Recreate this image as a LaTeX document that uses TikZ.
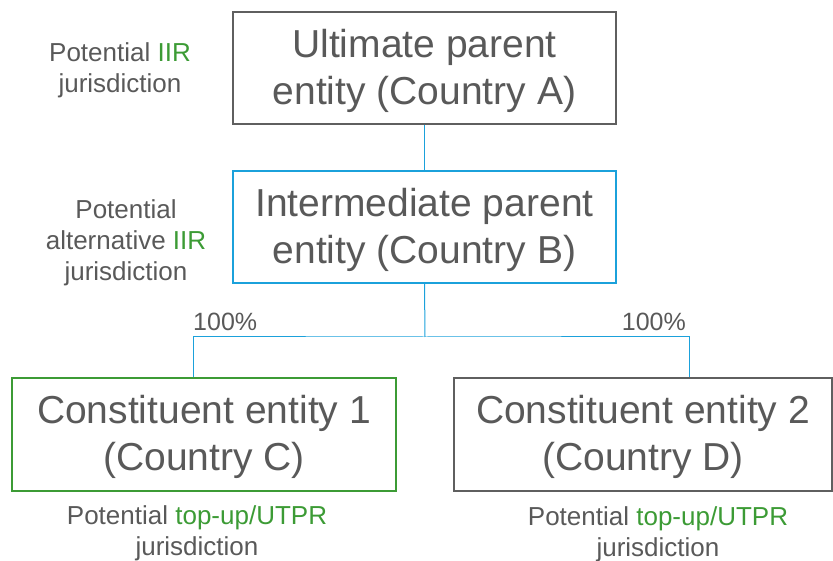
\documentclass[tikz,border=0pt]{standalone}
\usepackage{fontspec}
\setmainfont{Liberation Sans}
\definecolor{txtgray}{HTML}{595959}
\definecolor{boxgray}{HTML}{5F5F5F}
\definecolor{linkblue}{HTML}{1BA1DB}
\definecolor{taxgreen}{HTML}{3C9B35}
\tikzset{
  entity/.style={draw, line width=1.3pt, inner sep=0pt},
  etext/.style={inner sep=0pt, align=center, text=txtgray,
    font=\fontsize{39}{47}\selectfont},
  note/.style={inner sep=0pt, align=center, text=txtgray,
    font=\fontsize{26}{31}\selectfont},
  pct/.style={inner sep=0pt, text=txtgray, font=\fontsize{25}{29}\selectfont},
  link/.style={draw=linkblue, line width=1pt},
}
\newcommand{\hl}[1]{\textcolor{taxgreen}{#1}}
\begin{document}
\begin{tikzpicture}[x=1pt,y=-1pt]
  \useasboundingbox (0,0) rectangle (833,561);

  % entity boxes
  \node[entity, draw=boxgray, minimum width=383pt, minimum height=112pt] (upe)
    at (424.5,68) {};
  \node[entity, draw=linkblue, minimum width=383pt, minimum height=112pt] (ipe)
    at (424.5,227) {};
  \node[entity, draw=taxgreen, minimum width=384pt, minimum height=113pt] (ce1)
    at (204,434.5) {};
  \node[entity, draw=boxgray, minimum width=378pt, minimum height=113pt] (ce2)
    at (643,434.5) {};

  % entity names
  \node[etext] (upet) at ([yshift=-3pt]upe.center) {Ultimate parent\\entity (Country A)};
  \node[etext] (ipet) at ([yshift=-3pt]ipe.center) {Intermediate parent\\entity (Country B)};
  \node[etext] (ce1t) at ([yshift=-2pt]ce1.center) {Constituent entity 1\\(Country C)};
  \node[etext] (ce2t) at ([yshift=-2pt]ce2.center) {Constituent entity 2\\(Country D)};

  % ownership links
  \coordinate (split) at (425,337);
  \draw[link] (upe.south) -- (ipe.north);
  \draw[link] (ipe.south) -- (split);
  \draw[link] ([xshift=-11pt]ce1.north) |- (split) -| ([xshift=46pt]ce2.north);

  \node[pct, anchor=west] (p1) at (193,322) {100\%};
  \node[pct, anchor=east] (p2) at (686,322) {100\%};

  % jurisdiction notes
  \node[note] (n1) at (120,70) {Potential \hl{IIR}\\jurisdiction};
  \node[note] (n2) at (126,243) {Potential\\alternative \hl{IIR}\\jurisdiction};
  \node[note] (n3) at (197,533) {Potential \hl{top-up/UTPR}\\jurisdiction};
  \node[note] (n4) at (658,534) {Potential \hl{top-up/UTPR}\\jurisdiction};
\end{tikzpicture}
\end{document}
